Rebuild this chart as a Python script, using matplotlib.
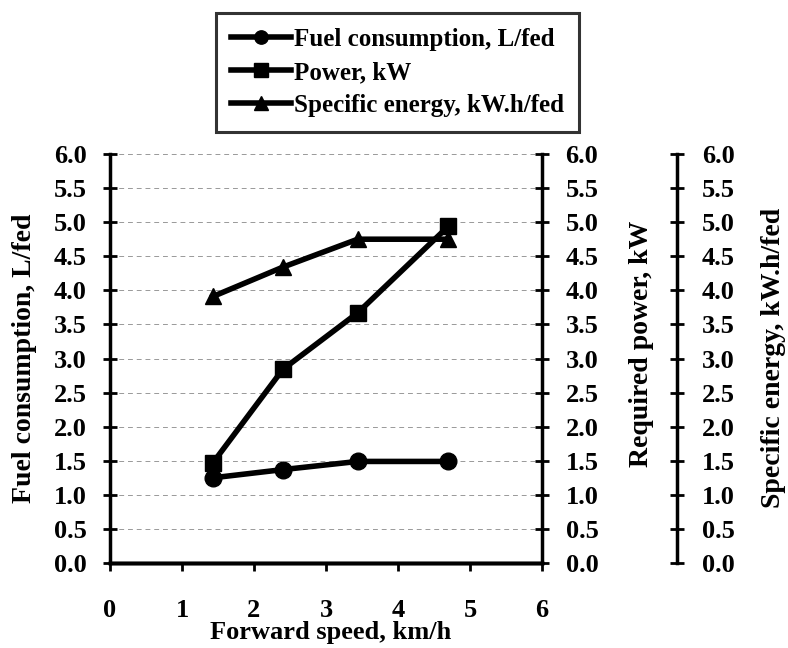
import matplotlib.pyplot as plt

# Data
speed = [1.43, 2.4, 3.44, 4.7]
fuel = [1.25, 1.37, 1.49, 1.49]
power = [1.47, 2.84, 3.67, 4.94]
energy = [3.91, 4.34, 4.75, 4.75]

yticks = [0.0, 0.5, 1.0, 1.5, 2.0, 2.5, 3.0, 3.5, 4.0, 4.5, 5.0, 5.5, 6.0]
xticks = [0, 1, 2, 3, 4, 5, 6]

plt.rcParams['font.family'] = ['Liberation Serif', 'DejaVu Serif']
plt.rcParams['font.weight'] = 'bold'

fig = plt.figure(figsize=(7.88, 6.48), dpi=100)
W, H = 788, 648
ax = fig.add_axes([110 / W, 1 - 563 / H, 432 / W, 409 / H])
ax2 = ax.twinx()
ax3 = ax.twinx()
ax3.spines['right'].set_position(('axes', 567 / 432))

for a in (ax, ax2, ax3):
    a.set_ylim(0, 6)
    a.set_yticks(yticks)
    a.set_yticklabels([f'{v:.1f}' for v in yticks], fontsize=19, fontweight='bold')
    a.spines['top'].set_visible(False)
    a.tick_params(axis='y', direction='inout', length=10, width=2, pad=12)
    for s in a.spines.values():
        s.set_linewidth(2.5)

ax.spines['right'].set_visible(False)
ax2.spines['left'].set_visible(False)
ax3.spines['left'].set_visible(False)
ax3.tick_params(axis='y', pad=13)

ax.set_xlim(0, 6)
ax.set_xticks(xticks)
ax.set_xticklabels([str(v) for v in xticks], fontsize=19, fontweight='bold')
ax.tick_params(axis='x', direction='out', length=6, width=2, pad=20)
ax.grid(axis='y', linestyle=(0, (5, 4)), color='#999999', linewidth=0.7)

kw = dict(color='black', linewidth=4, markersize=12, clip_on=False)
l1, = ax.plot(speed, fuel, marker='o', **kw)
l2, = ax2.plot(speed, power, marker='s', **kw)
l3, = ax3.plot(speed, energy, marker='^', **kw)

# axis titles placed by hand to match the reference
fig.text(331 / W, 1 - 632 / H, 'Forward speed, km/h', fontsize=19,
         fontweight='bold', ha='center', va='center')
fig.text(25 / W, 1 - 358 / H, 'Fuel consumption, L/fed', fontsize=20,
         fontweight='bold', ha='center', va='center', rotation=90)
fig.text(642 / W, 1 - 344 / H, 'Required power, kW', fontsize=20,
         fontweight='bold', ha='center', va='center', rotation=90)
fig.text(773 / W, 1 - 358 / H, 'Specific energy, kW.h/fed', fontsize=20,
         fontweight='bold', ha='center', va='center', rotation=90)

leg = fig.legend([l1, l2, l3],
                 ['Fuel consumption, L/fed', 'Power, kW', 'Specific energy, kW.h/fed'],
                 loc='upper left', bbox_to_anchor=(216 / W, 1 - 13 / H),
                 borderaxespad=0, fontsize=18, frameon=True, fancybox=False,
                 edgecolor='black', handlelength=2.4, handletextpad=0.1,
                 borderpad=0.6, labelspacing=0.4, markerscale=0.8)
leg.get_frame().set_linewidth(2.2)

fig.savefig('out.png', dpi=100)
